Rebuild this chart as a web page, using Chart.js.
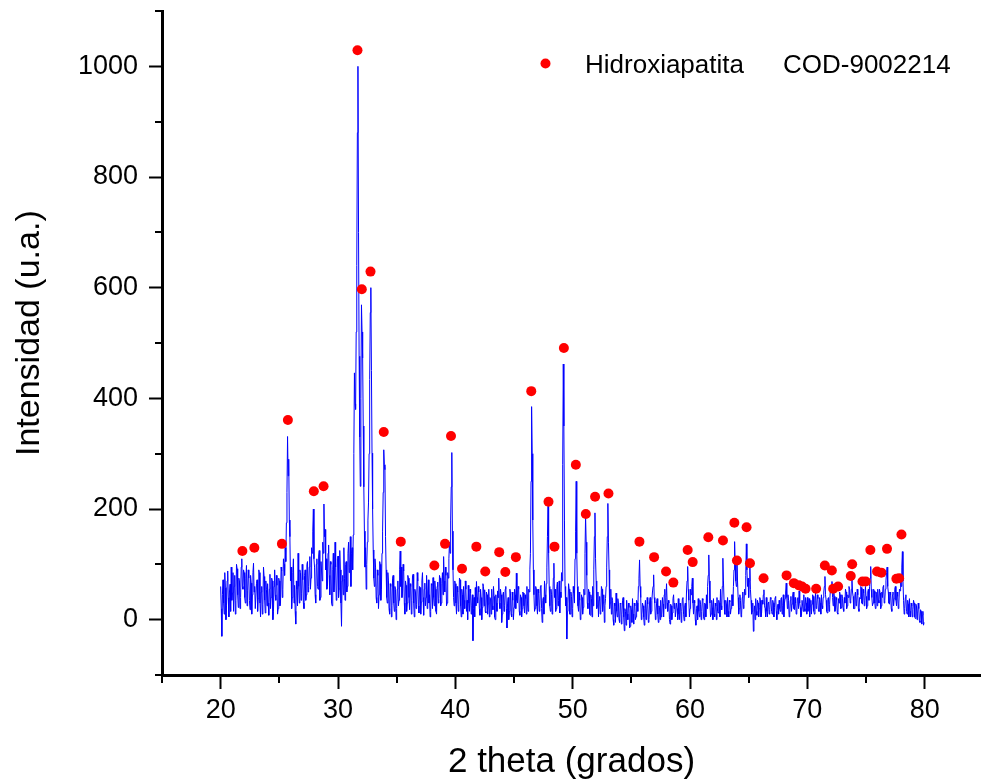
<!DOCTYPE html>
<html>
<head>
<meta charset="utf-8">
<script src="https://cdn.jsdelivr.net/npm/chart.js@4/dist/chart.umd.min.js"></script>
<style>
html, body { margin: 0; padding: 0; background: #fff; }
canvas { display: block; }
</style>
</head>
<body>
<canvas id="xrd" width="981" height="783"></canvas>
<script>
////////////////////////////////////////////////////////////////////////
// Data

// scan: 2 theta from 20.00 in steps of 0.05 degree (20 readings per degree)
const scanStart = 20.0
const scanStep = 0.05
const intensity = [
    60, 20, -30, 45, 72, 30, 10, 85, 58, 0, 25, 70, 88, 40, 5, 50, 64, 15, 95, 35,              // 20
    48, 85, 15, 60, 80, 10, 35, 100, 92, 45, 22, 75, 70, 20, 40, 95, 110, 60, 55, 90,           // 21
    85, 40, 30, 75, 98, 25, 52, 90, 75, 35, 18, 80, 66, 10, 45, 85, 102, 50, 60, 20,            // 22
    20, 65, 72, 15, 38, 90, 85, 30, 5, 50, 60, 10, 28, 95, 78, 35, 12, 70, 55, 25,              // 23
    65, 30, 8, 55, 82, 20, 40, 75, 70, 0, 15, 60, 90, 45, 35, 80, 62, 10, 20, 75,               // 24
    70, 25, 30, 95, 88, 40, 55, 110, 100, 80, 130, 105, 175, 230, 331, 260, 290, 180, 150, 70,  // 25
    95, 20, 40, 85, 110, 30, 62, 15, -8, 70, 55, 25, 120, 60, 30, 90, 85, 35, 48, 100,          // 26
    72, 30, 20, 80, 90, 35, 45, 100, 105, 50, 60, 95, 114, 55, 75, 130, 120, 160, 200, 110,     // 27
    95, 45, 30, 100, 110, 60, 55, 115, 125, 35, 40, 105, 88, 70, 140, 120, 209, 150, 163, 90,   // 28
    110, 55, 60, 120, 135, 80, 45, 105, 100, 30, 25, 90, 120, 50, 70, 140, 95, 35, 40, 110,     // 29
    115, 40, 55, 125, 90, 30, -12, 70, 80, 45, 130, 75, 35, 100, 105, 50, 60, 120, 140, 85,     // 30
    95, 150, 60, 120, 130, 90, 153, 300, 446, 390, 380, 520, 640, 880, 1000, 700, 476, 330, 241, 400, // 31
    569, 520, 473, 350, 240, 160, 95, 130, 55, 100, 140, 180, 211, 300, 434, 555, 600, 450, 301, 200, // 32
    126, 75, 60, 110, 95, 40, 30, 90, 80, 20, 45, 105, 100, 35, 55, 120, 160, 230, 307, 280,    // 33
    271, 150, 90, 40, 30, 85, 70, 20, 10, 65, 60, 5, 25, 75, 80, 30, 15, 60, 55, 0,             // 34
    20, 55, 70, 25, 35, 90, 124, 60, 95, 40, 50, 100, 88, 30, 10, 70, 62, 15, 30, 80,           // 35
    75, 40, 18, 65, 60, 10, 35, 80, 82, 30, 5, 55, 50, 20, 28, 85, 70, 25, 12, 60,              // 36
    58, 10, 32, 70, 85, 40, 8, 55, 66, 25, 40, 80, 20, 50, 72, 30, 45, 5, 15, 65,               // 37
    62, 20, 76, 40, 25, 70, 55, 15, 10, 60, 68, 30, 38, 80, 75, 25, 30, 65, 85, 45,             // 38
    114, 70, 50, 95, 80, 25, 30, 85, 75, 110, 140, 120, 180, 240, 302, 160, 90, 40, 25, 70,     // 39
    65, 30, 10, 60, 50, 15, 28, 75, 72, 25, 5, 55, 45, 10, 60, 35, 20, 70, 55, 15,              // 40
    35, 0, 62, 30, 15, 55, 48, 10, 25, 45, -38, 20, 40, 5, 58, 25, 69, 40, 30, 60,              // 41
    50, 20, 8, 55, 40, 0, 22, 65, 60, 25, 54, 15, 12, 50, 45, 10, 28, 55, 5, 40,                // 42
    38, 10, 55, 25, 18, 60, 42, 5, 0, 45, 30, 15, 52, 40, 75, 30, 20, 55, 45, -5,               // 43
    10, 45, 50, 15, 25, 55, 60, 20, -15, 30, 40, 0, 15, 55, 48, 10, 5, 50, 35, 0,               // 44
    22, 55, 45, 20, 84, 35, 30, 60, 55, 15, 8, 45, 40, 5, 20, 50, 48, 25, 12, 45,               // 45
    38, 10, 60, 30, 15, 55, 50, 90, 120, 250, 385, 300, 180, 90, 45, 15, 20, 60, 55, 25,        // 46
    10, 55, 48, 15, 25, 60, 62, 20, -5, 35, 40, 10, 70, 45, 30, 65, 95, 150, 205, 120,          // 47
    60, 25, 15, 55, 45, 10, 30, 75, 102, 40, 55, 15, 20, 60, 68, 25, 35, 70, 12, 50,            // 48
    40, 85, 70, 280, 462, 350, 180, 60, 25, 40, -35, 15, 30, 65, 55, 10, 10, 50, 42, 5,         // 49
    20, 60, 48, 30, 110, 160, 250, 120, 60, 25, 15, 50, 35, 0, 5, 45, 40, 10, 22, 55,           // 50
    45, 120, 187, 140, 80, 30, 20, 55, 50, 10, 8, 45, 38, 5, 60, 25, 90, 150, 193, 110,         // 51
    70, 20, 25, 50, 5, 35, 42, 10, 18, 60, 55, 15, 30, 45, -5, 25, 38, 60, 95, 150,             // 52
    210, 140, 90, 20, 30, 55, 10, 40, 35, 0, -10, 30, 25, -5, 48, 15, 5, 38, 30, 0,             // 53
    -5, 30, 28, -8, 10, 35, 40, 5, -20, 20, 15, -10, 35, 10, 0, 30, 22, -15, -12, 25,           // 54
    18, -5, 38, 10, -8, 30, 25, 0, 5, 35, 30, 15, 60, 75, 108, 60, 40, 0, 10, 30,               // 55
    25, 5, -10, 20, 35, 0, 12, 40, 28, -5, 0, 30, 40, 10, 15, 35, 50, 60, 81, 40,               // 56
    30, 0, 8, 30, 38, 10, -5, 25, 22, 0, 35, 5, 10, 40, 28, 5, 45, 55, 20, 40,                  // 57
    65, 30, 15, 35, 30, 0, -8, 28, 25, 0, 12, 38, 45, 20, 30, 5, 5, 30, 20, 0,                  // 58
    38, 10, 0, 30, 25, -5, 15, 38, 40, 10, -2, 25, 30, 5, 50, 70, 96, 55, 35, 5,                // 59
    20, 55, 45, 60, 75, 30, 10, 35, 30, 0, -10, 20, 25, 0, 38, 15, 5, 35, 28, 0,                // 60
    15, 38, 35, 5, 0, 30, 28, 5, 45, 20, 60, 80, 117, 70, 30, 5, 10, 35, 22, 0,                 // 61
    38, 10, 5, 30, 25, 0, 40, 15, 12, 35, 30, 5, 55, 25, 18, 60, 111, 70, 35, 10,               // 62
    10, 35, 28, 5, 40, 15, 5, 35, 32, 10, 20, 45, 45, 25, 60, 90, 141, 100, 70, 60,             // 63
    113, 70, 40, 10, 20, 45, 35, 5, 10, 40, 50, 20, 28, 55, 45, 80, 137, 90, 60, 75,            // 64
    40, 70, 100, 55, 35, 10, 15, 30, -21, 10, 25, 0, 38, 15, 8, 35, 30, 5, 20, 40,              // 65
    35, 5, 12, 35, 28, 45, 54, 25, 20, 5, 40, 15, 5, 30, 32, 10, 18, 40, 38, 15,                // 66
    10, 35, 30, 5, 22, 40, 42, 15, 0, 25, 28, 10, 35, 20, 15, 38, 40, 10, 25, 45,               // 67
    5, 30, 38, 50, 66, 40, 20, 45, 35, 5, 10, 35, 42, 15, 28, 45, 50, 20, 18, 40,               // 68
    30, 10, 12, 38, 40, 20, 52, 30, 22, 5, 8, 35, 35, 15, 45, 20, 15, 40, 30, 10,               // 69
    40, 15, 20, 38, 5, 25, 35, 10, 28, 45, 42, 15, 10, 35, 48, 20, 25, 45, 38, 15,              // 70
    15, 40, 30, 10, 45, 25, 20, 40, 50, 60, 78, 45, 35, 15, 12, 38, 40, 15, 28, 50,             // 71
    48, 55, 69, 40, 25, 50, 42, 15, 18, 40, 35, 12, 10, 38, 30, 50, 45, 20, 22, 45,             // 72
    38, 20, 15, 40, 30, 55, 50, 20, 25, 45, 40, 60, 55, 30, 35, 55, 75, 50, 42, 20,             // 73
    20, 45, 50, 25, 30, 55, 45, 20, 15, 40, 38, 60, 58, 30, 28, 55, 48, 25, 35, 60,             // 74
    42, 20, 25, 50, 55, 35, 60, 75, 96, 55, 40, 25, 30, 55, 52, 30, 20, 50, 45, 25,             // 75
    55, 35, 30, 55, 48, 20, 25, 50, 40, 60, 62, 30, 35, 55, 70, 85, 95, 60, 50, 30,             // 76
    28, 50, 45, 20, 15, 45, 50, 25, 38, 55, 60, 35, 25, 50, 42, 20, 30, 55, 52, 80,             // 77
    60, 95, 123, 70, 35, 10, 20, 40, 45, 15, 10, 35, 28, 5, 38, 15, 5, 30, 25, 5,               // 78
    18, 35, 30, 5, 2, 28, 25, 0, 12, 30, 20, -2, -5, 18, 15, -8, 8, 15, -10, -5                 // 79
]

// Reference pattern, hidroxiapatita COD-9002214
const refAngle = [
    21.85, 22.87, 25.22, 25.73, 27.94, 28.77, 31.66, 32.03, 32.77, 33.90,
    35.35, 38.21, 39.12, 39.63, 40.57, 41.79, 42.55, 43.74, 44.26, 45.16,
    46.47, 47.94, 48.45, 49.25, 50.27, 51.12, 51.91, 53.05, 55.69, 56.94,
    57.96, 58.58, 59.80, 60.23, 61.56, 62.81, 63.78, 64.00, 64.82, 65.11,
    66.27, 68.23, 68.85, 69.28, 69.55, 69.85, 70.75, 71.49, 72.09, 72.20,
    72.62, 73.70, 73.82, 74.70, 74.98, 75.37, 75.94, 76.31, 76.79, 77.59,
    77.82, 78.02
]
const refIntensity = [
    124, 130, 137, 361, 232, 241, 1029, 597, 629, 339,
    141, 98, 137, 332, 92, 132, 87, 122, 86, 113,
    413, 213, 132, 491, 280, 191, 222, 228, 141, 113,
    87, 67, 126, 104, 149, 143, 175, 107, 167, 102,
    75, 80, 66, 62, 60, 56, 56, 98, 89, 56,
    60, 79, 100, 69, 69, 126, 87, 85, 128, 74,
    75, 154
]

// Axis ticks
const xMajor = [20, 30, 40, 50, 60, 70, 80]
const xMinor = [15, 25, 35, 45, 55, 65, 75]
const yMajor = [0, 200, 400, 600, 800, 1000]
const yMinor = [-100, 100, 300, 500, 700, 900, 1100]

const xTitle = "2 theta (grados)"
const yTitle = "Intensidad (u.a.)"
const legendName = "Hidroxiapatita"
const legendCode = "COD-9002214"

////////////////////////////////////////////////////////////////////////
// Chart

const FONT = "'Liberation Sans', Arial, sans-serif"

const scanPoints = intensity.map((y, i) => ({ x: +(scanStart + i * scanStep).toFixed(2), y: y }))
const refPoints = refAngle.map((x, i) => ({ x: x, y: refIntensity[i] }))

/**
 * Minor ticks, axis titles and the legend.
 */
const decorations = {
    id: 'decorations',
    afterDraw(chart) {
        const ctx = chart.ctx
        const area = chart.chartArea
        const xs = chart.scales.x
        const ys = chart.scales.y
        ctx.save()
        ctx.strokeStyle = '#000'
        ctx.lineWidth = 2
        xMinor.forEach(v => {
            const px = Math.round(xs.getPixelForValue(v))
            ctx.beginPath()
            ctx.moveTo(px, area.bottom)
            ctx.lineTo(px, area.bottom + 8)
            ctx.stroke()
        })
        yMinor.forEach(v => {
            const py = Math.round(ys.getPixelForValue(v))
            ctx.beginPath()
            ctx.moveTo(area.left - 7, py)
            ctx.lineTo(area.left, py)
            ctx.stroke()
        })

        ctx.fillStyle = '#000'
        ctx.textBaseline = 'alphabetic'
        ctx.font = '35px ' + FONT
        ctx.textAlign = 'center'
        ctx.fillText(xTitle, (area.left + area.right) / 2, 772)

        ctx.save()
        ctx.font = '34px ' + FONT
        ctx.textAlign = 'left'
        ctx.translate(39, 456)
        ctx.rotate(-Math.PI / 2)
        ctx.fillText(yTitle, 0, 0)
        ctx.restore()

        // legend
        const ds = chart.data.datasets[0]
        ctx.fillStyle = ds.backgroundColor
        ctx.beginPath()
        ctx.arc(545.5, 63.5, ds.pointRadius, 0, Math.PI * 2)
        ctx.fill()
        ctx.fillStyle = '#000'
        ctx.font = '26px ' + FONT
        ctx.textAlign = 'left'
        ctx.fillText(legendName, 585, 73)
        ctx.fillText(legendCode, 783, 73)
        ctx.restore()
    }
}

new Chart(document.getElementById('xrd'), {
    type: 'scatter',
    data: {
        datasets: [
            {
                label: legendName,
                data: refPoints,
                backgroundColor: '#ff0000',
                borderWidth: 0,
                pointRadius: 5,
                pointStyle: 'circle'
            },
            {
                label: 'muestra',
                type: 'line',
                data: scanPoints,
                borderColor: '#0000ff',
                borderWidth: 1,
                pointRadius: 0,
                fill: false,
                tension: 0,
                showLine: true
            }
        ]
    },
    options: {
        responsive: false,
        animation: false,
        devicePixelRatio: 1,
        layout: {
            padding: { top: 11, right: 0, bottom: 0, left: 0 },
            autoPadding: false
        },
        plugins: {
            legend: { display: false },
            tooltip: { enabled: false }
        },
        scales: {
            x: {
                type: 'linear',
                min: 15,
                max: 84.8,
                afterBuildTicks: s => { s.ticks = xMajor.map(v => ({ value: v })) },
                afterFit: s => {
                    s.height = 108
                    s.paddingLeft = 0
                    s.paddingRight = 0
                },
                grid: { drawOnChartArea: false, tickLength: 14, tickWidth: 2, tickColor: '#000' },
                border: { color: '#000', width: 3 },
                ticks: { color: '#000', font: { family: FONT, size: 27 }, padding: 5, maxRotation: 0,
                         callback: v => String(v) }
            },
            y: {
                type: 'linear',
                min: -100,
                max: 1100,
                afterBuildTicks: s => { s.ticks = yMajor.map(v => ({ value: v })) },
                afterFit: s => {
                    s.width = 162
                    s.paddingTop = 0
                    s.paddingBottom = 0
                },
                grid: { drawOnChartArea: false, tickLength: 13, tickWidth: 2, tickColor: '#000' },
                border: { color: '#000', width: 3 },
                ticks: { color: '#000', font: { family: FONT, size: 27 }, padding: 11,
                         callback: v => String(v) }
            }
        }
    },
    plugins: [decorations]
})
</script>
</body>
</html>
